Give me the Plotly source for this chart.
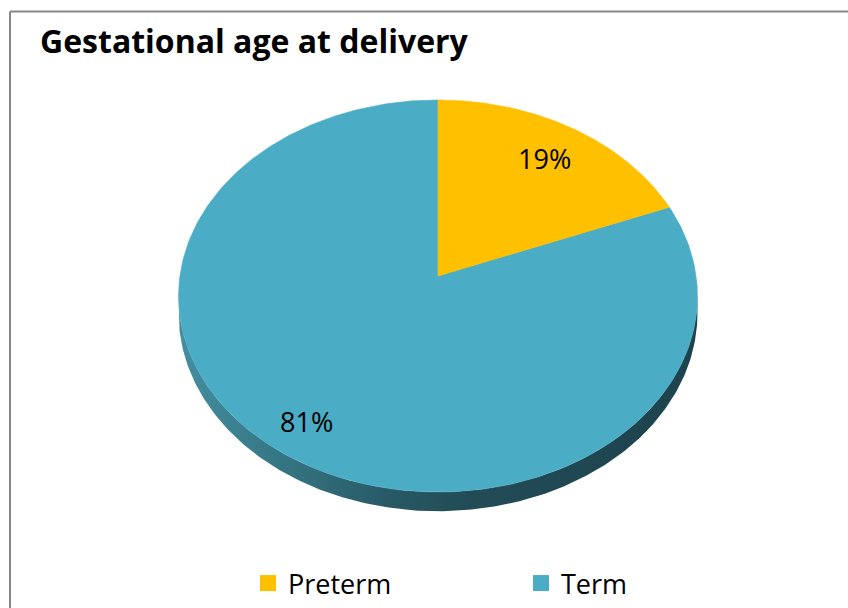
import numpy as np
import plotly.graph_objects as go

# Data
categories = ["Preterm", "Term"]
shares = [19, 81]
labels = ["19%", "81%"]
colors = ["#FFC000", "#4BACC6"]

# Pie geometry (pixel units, y grows downward)
CX, CY = 438.0, 276.0          # apex of the slices
A, B = 258.1, 194.0            # horizontal / depth radii
P = 0.102                      # perspective factor
THICK = 17.2                   # side wall height
label_radius = [0.78, 0.845]


def project(theta, k=1.0):
    d = 1.0 + P * k * np.cos(theta)
    return CX + A * k * np.sin(theta) / d, CY - B * k * np.cos(theta) / d


fig = go.Figure()

# Side wall (front half of the disc)
t_r = np.arccos(-P)
t_l = 2 * np.pi - t_r
ts = np.linspace(t_r, t_l, 240)
xt, yt = project(ts)
yb = yt + THICK / (1.0 + P * np.cos(ts))
side_x = np.concatenate([xt, xt[::-1]])
side_y = np.concatenate([yt, yb[::-1]])
fig.add_trace(go.Scatter(
    x=side_x, y=side_y, mode="lines", fill="toself",
    line=dict(width=0, color="#1d434d"),
    fillgradient=dict(type="horizontal", colorscale=[
        [0.0, "#458fa0"], [0.2, "#357583"], [0.4, "#285a66"],
        [0.55, "#224c56"], [1.0, "#1d434d"]]),
    showlegend=False, hoverinfo="skip"))

# Top face slices, clockwise from 12 o'clock
total = float(sum(shares))
bounds = np.concatenate([[0.0], np.cumsum(shares) / total]) * 2 * np.pi
order = [1, 0]
for i in order:
    a0, a1 = bounds[i], bounds[i + 1]
    th = np.linspace(a0, a1, 300)
    ax, ay = project(th)
    px = np.concatenate([[CX], ax, [CX]])
    py = np.concatenate([[CY], ay, [CY]])
    fig.add_trace(go.Scatter(
        x=px, y=py, mode="lines", fill="toself",
        fillcolor=colors[i], line=dict(width=0.6, color=colors[i]),
        name=categories[i], legendgroup=categories[i],
        showlegend=False, hoverinfo="skip"))

# Percentage labels
for i in range(len(shares)):
    mid = (bounds[i] + bounds[i + 1]) / 2
    lx, ly = project(mid, label_radius[i])
    fig.add_annotation(x=lx, y=ly, text=labels[i], showarrow=False,
                       font=dict(family="Open Sans", size=27, color="#000000"),
                       xanchor="center", yanchor="middle")

# Legend entries
for i in range(len(categories)):
    fig.add_trace(go.Scatter(
        x=[None], y=[None], mode="markers", name=categories[i],
        legendgroup=categories[i],
        marker=dict(symbol="square", size=16, color=colors[i],
                    line=dict(width=0))))

# Chart frame
fig.add_shape(type="line", xref="x", yref="y", x0=10, y0=608, x1=10, y1=11.5,
              line=dict(color="#888888", width=2))
fig.add_shape(type="line", xref="x", yref="y", x0=10, y0=11.5, x1=848, y1=11.5,
              line=dict(color="#888888", width=2))

fig.update_layout(
    width=848, height=608,
    margin=dict(l=0, r=0, t=0, b=0),
    paper_bgcolor="white", plot_bgcolor="white",
    title=dict(text="<b>Gestational age at delivery</b>",
               x=40 / 848, xanchor="left", y=1 - 42 / 608, yanchor="middle",
               font=dict(family="Open Sans", size=32, color="#000000")),
    xaxis=dict(range=[0, 848], visible=False, fixedrange=True),
    yaxis=dict(range=[608, 0], visible=False, fixedrange=True),
    showlegend=True,
    legend=dict(orientation="h", x=248 / 848, xanchor="left",
                y=0, yanchor="bottom",
                entrywidth=228, entrywidthmode="pixels",
                itemsizing="trace", bgcolor="rgba(0,0,0,0)",
                font=dict(family="Open Sans", size=27, color="#000000")),
    hovermode=False,
)

fig.write_html("out.html", config={"displayModeBar": False})
